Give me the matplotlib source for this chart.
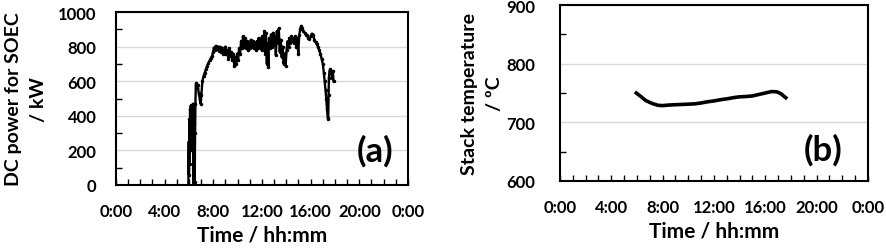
import matplotlib
matplotlib.use('Agg')
import matplotlib.pyplot as plt
import matplotlib.ticker as mticker

# ── data ────────────────────────────────────────────────────
# (a) DC power for SOEC, kW vs time of day (hours)
power_hours = [5.95, 5.98, 6.00, 6.03, 6.06, 6.09, 6.12, 6.15, 6.18, 6.21,
               6.24, 6.27, 6.30, 6.33, 6.36, 6.38, 6.41, 6.44, 6.47, 6.50,
               6.53, 6.56, 6.60, 6.66, 6.72, 6.80, 6.88, 6.95, 7.02, 7.10,
               7.20, 7.30, 7.40, 7.50, 7.60, 7.70, 7.80, 7.90, 7.98, 8.05,
               8.12, 8.20, 8.28, 8.36, 8.44, 8.52, 8.60, 8.68, 8.76, 8.84,
               8.92, 9.00, 9.08, 9.16, 9.24, 9.32, 9.40, 9.48, 9.56, 9.64,
               9.72, 9.80, 9.88, 9.96, 10.04, 10.12, 10.20, 10.28, 10.36, 10.44,
               10.52, 10.60, 10.68, 10.76, 10.84, 10.92, 11.00, 11.08, 11.16, 11.24,
               11.32, 11.40, 11.48, 11.56, 11.64, 11.72, 11.80, 11.88, 11.96, 12.04,
               12.12, 12.20, 12.26, 12.32, 12.40, 12.46, 12.52, 12.58, 12.66, 12.74,
               12.82, 12.90, 12.98, 13.06, 13.14, 13.22, 13.30, 13.38, 13.46, 13.54,
               13.62, 13.70, 13.78, 13.86, 13.94, 14.02, 14.10, 14.18, 14.26, 14.34,
               14.42, 14.50, 14.58, 14.66, 14.74, 14.82, 14.90, 14.98, 15.06, 15.14,
               15.22, 15.30, 15.40, 15.50, 15.60, 15.70, 15.80, 15.90, 16.00, 16.10,
               16.20, 16.30, 16.40, 16.50, 16.60, 16.70, 16.80, 16.90, 17.00, 17.08,
               17.15, 17.22, 17.28, 17.34, 17.40, 17.44, 17.47, 17.50, 17.55, 17.62,
               17.70, 17.76, 17.82, 17.88]
power_kw = [0, 250, 60, 380, 120, 440, 300, 460, 200, 420,
            330, 450, 280, 470, 100, 0, 350, 460, 20, 300,
            470, 580, 590, 560, 580, 530, 500, 470, 520, 600,
            630, 650, 670, 690, 705, 720, 735, 745, 770, 795,
            780, 805, 790, 800, 775, 800, 770, 795, 760, 790,
            755, 800, 760, 780, 730, 790, 745, 770, 720, 760,
            690, 740, 700, 760, 720, 790, 760, 830, 790, 860,
            800, 850, 790, 830, 780, 820, 790, 840, 800, 830,
            790, 820, 780, 830, 790, 850, 800, 840, 780, 860,
            800, 890, 760, 880, 700, 820, 680, 850, 790, 870,
            800, 880, 810, 860, 750, 890, 820, 905, 770, 840,
            740, 800, 700, 760, 690, 780, 830, 800, 850, 820,
            860, 830, 850, 820, 860, 800, 850, 760, 870, 900,
            920, 905, 890, 880, 870, 865, 850, 845, 860, 875,
            870, 840, 825, 815, 800, 780, 760, 730, 700, 650,
            600, 550, 500, 440, 390, 380, 520, 620, 660, 670,
            650, 620, 660, 600]

# (b) stack temperature, degC
temp_hours = [5.95, 6.3, 6.7, 7.2, 7.65, 8.0, 8.5, 9.0, 9.5, 10.0,
              10.5, 11.0, 11.5, 12.0, 12.5, 13.0, 13.5, 14.0, 14.5, 15.0,
              15.5, 16.0, 16.5, 16.9, 17.2, 17.6]
temp_c = [750, 744, 737, 732, 729, 728.5, 729.5, 730, 730.5, 731,
          731.5, 733, 735, 736.5, 738.5, 740, 742, 743.5, 744, 745,
          747.5, 750, 752.5, 752, 749, 742]

plt.rcParams['font.family'] = ['Lato', 'DejaVu Sans']
plt.rcParams['font.weight'] = 'bold'

fig = plt.figure(figsize=(8.86, 2.51), dpi=100)
ax1 = fig.add_axes([0.1309, 0.259, 0.3296, 0.689])
ax2 = fig.add_axes([0.632, 0.275, 0.3476, 0.701])


def hhmm(x, pos):
    return f'{int(round(x)) % 24}:00'


def style_axis(ax, ymin, ymax, ymajor, yminor, ypad):
    ax.set_xlim(0, 24)
    ax.set_ylim(ymin, ymax)
    ax.xaxis.set_major_locator(mticker.MultipleLocator(4))
    ax.xaxis.set_minor_locator(mticker.MultipleLocator(1))
    ax.xaxis.set_major_formatter(mticker.FuncFormatter(hhmm))
    ax.yaxis.set_major_locator(mticker.MultipleLocator(ymajor))
    ax.yaxis.set_minor_locator(mticker.MultipleLocator(yminor))
    ax.tick_params(axis='x', which='both', direction='in', length=4,
                   width=1, pad=13, labelsize=12)
    ax.tick_params(axis='y', which='major', length=0, pad=ypad, labelsize=12)
    ax.tick_params(axis='y', which='minor', direction='in', length=4, width=1)
    ax.tick_params(top=False, right=False, which='both')
    ax.grid(axis='y', which='major', color='#d9d9d9', linewidth=1)
    ax.set_axisbelow(True)
    for sp in ax.spines.values():
        sp.set_linewidth(1.5)
    ax.set_xlabel('Time / hh:mm', fontsize=15, fontweight='bold', labelpad=4)


# ── (a) ──
ax1.plot(power_hours, power_kw, color='black', linewidth=1.7,
         marker='.', markersize=3)
style_axis(ax1, 0, 1000, 200, 100, 14)
ax1.set_ylabel('DC power for SOEC\n/ kW', fontsize=14, fontweight='bold',
               linespacing=1.55, labelpad=8)
ax1.text(0.887, 0.2, '(a)', transform=ax1.transAxes, fontsize=25,
         fontweight='bold', ha='center', va='center')

# ── (b) ──
ax2.plot(temp_hours, temp_c, color='black', linewidth=2.6)
style_axis(ax2, 600, 900, 100, 50, 18)
ax2.set_ylabel('Stack temperature\n/ ºC', fontsize=14, fontweight='bold',
               linespacing=1.55, labelpad=2)
ax2.text(0.854, 0.18, '(b)', transform=ax2.transAxes, fontsize=25,
         fontweight='bold', ha='center', va='center')

plt.savefig('out.png', dpi=100)
